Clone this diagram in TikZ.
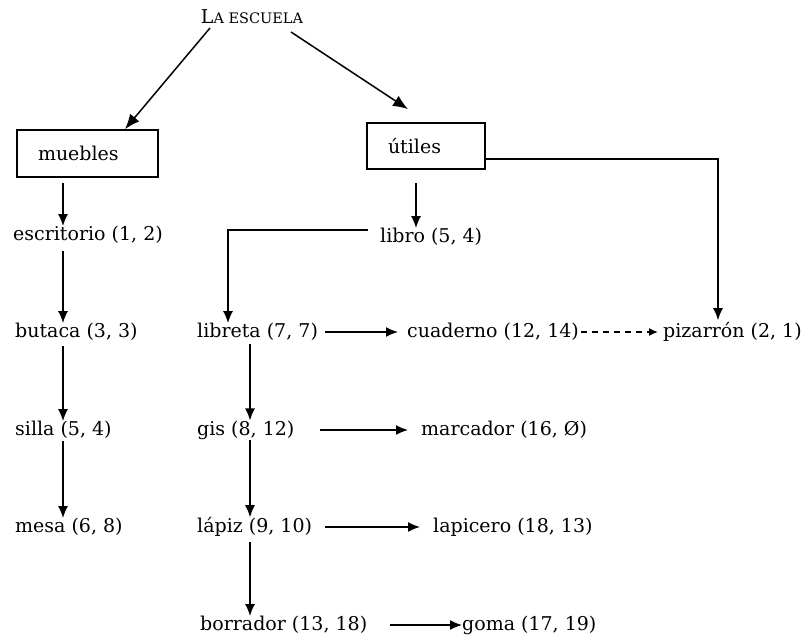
\documentclass[tikz,border=0pt]{standalone}
\usepackage{fontspec}
\setmainfont{DejaVu Serif}
\usetikzlibrary{arrows.meta}

\begin{document}
\begin{tikzpicture}[x=1pt,y=-1pt,
    item/.style={anchor=west,inner sep=0pt,font=\fontsize{19}{22}\selectfont},
    caja/.style={draw,line width=1.7pt,inner ysep=0pt,align=left,font=\fontsize{19}{22}\selectfont},
    flecha/.style={-{Latex[length=12pt,width=10pt]},line width=1.5pt},
    diagonal/.style={-{Latex[length=15pt,width=12pt]},line width=1.5pt},
    punteada/.style={-{Latex[length=9pt,width=8pt]},line width=1.5pt,dash pattern=on 6pt off 5pt}]
  \useasboundingbox (0,0) rectangle (808,640);
  \coordinate (ix) at (63,0);
  \coordinate (jx) at (250,0);
  \coordinate (kx) at (228,0);
  \coordinate (lx) at (416,0);
  \coordinate (px) at (718,0);
  \node[item,anchor=center] (escuela) at (252,17) {L{\fontsize{14.5}{16}\selectfont A ESCUELA}};
  \node[caja,text width=99pt,inner xsep=21pt,minimum height=47pt] (muebles) at (87.5,153.5) {muebles};
  \node[caja,text width=76pt,inner xsep=21pt,minimum height=46pt] (utiles) at (426,146) {útiles};
  % columna izquierda
  \node[item] (escritorio) at (13,235) {escritorio (1, 2)};
  \node[item] (butaca) at (15,332) {butaca (3, 3)};
  \node[item] (silla) at (15,430) {silla (5, 4)};
  \node[item] (mesa) at (15,527) {mesa (6, 8)};
  % columna central
  \node[item] (libro) at (380,237) {libro (5, 4)};
  \node[item] (libreta) at (197,332) {libreta (7, 7)};
  \node[item] (gis) at (197,430) {gis (8, 12)};
  \node[item] (lapiz) at (197,527) {lápiz (9, 10)};
  \node[item] (borrador) at (200,625) {borrador (13, 18)};
  % derecha
  \node[item] (cuaderno) at (407,332) {cuaderno (12, 14)};
  \node[item] (pizarron) at (663,332) {pizarrón (2, 1)};
  \node[item] (marcador) at (421,430) {marcador (16, Ø)};
  \node[item] (lapicero) at (433,527) {lapicero (18, 13)};
  \node[item] (goma) at (462,625) {goma (17, 19)};

  \draw[diagonal] ([shift={(-42,11)}]escuela.center) -- ([shift={(37.5,0)}]muebles.north);
  \draw[diagonal] ([shift={(39,15)}]escuela.center) -- ([shift={(-18,-13)}]utiles.north);
  \draw[flecha,shorten >=2pt] ([shift={(0,13)}]utiles.east) -| (pizarron.north -| px);
  \draw[flecha,shorten <=5pt] (muebles.south -| ix) -- (escritorio.north -| ix);
  \draw[flecha,shorten <=7pt] (escritorio.south -| ix) -- (butaca.north -| ix);
  \draw[flecha,shorten <=5pt] (butaca.south -| ix) -- (silla.north -| ix);
  \draw[flecha,shorten <=2pt] (silla.south -| ix) -- (mesa.north -| ix);
  \draw[flecha,shorten <=13pt] (utiles.south -| lx) -- (libro.north -| lx);
  \draw[flecha] ([shift={(-12,-7)}]libro.west) -| (libreta.north -| kx);
  \draw[flecha,shorten <=3pt] (libreta.south -| jx) -- (gis.north -| jx);
  \draw[flecha] (gis.south -| jx) -- (lapiz.north -| jx);
  \draw[flecha,shorten <=5pt] (lapiz.south -| jx) -- (borrador.north -| jx);
  \draw[flecha] ([shift={(7,0)}]libreta.east) -- ([shift={(-9,0)}]cuaderno.west);
  \draw[punteada] ([shift={(2,0)}]cuaderno.east) -- ([shift={(-5,0)}]pizarron.west);
  \draw[flecha] ([shift={(25,0)}]gis.east) -- ([shift={(-13,0)}]marcador.west);
  \draw[flecha] ([shift={(13,0)}]lapiz.east) -- ([shift={(-13,0)}]lapicero.west);
  \draw[flecha] ([shift={(23,0)}]borrador.east) -- (goma.west);
\end{tikzpicture}
\end{document}
